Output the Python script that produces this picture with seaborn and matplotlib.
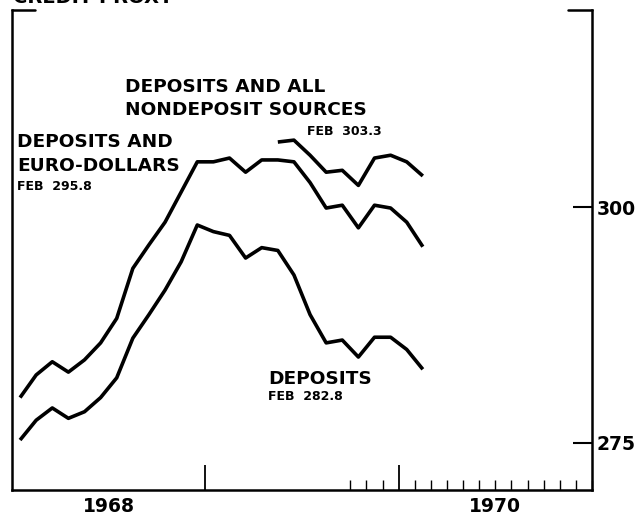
import pandas as pd
import matplotlib
matplotlib.use('Agg')
import matplotlib.pyplot as plt
import seaborn as sns

# Credit proxy, monthly averages (billions of dollars), Jan 1968 - Feb 1970
months = pd.date_range('1968-01-01', '1970-02-01', freq='MS')
deposits = [275.3, 277.4, 278.7, 277.6, 278.3, 279.8, 281.9, 286.1, 288.6, 291.2, 294.2, 298.1,
            297.4, 297.0, 294.6, 295.7, 295.4, 292.8, 288.6, 285.6, 285.9, 284.1, 286.2, 286.2,
            284.9, 282.8]
deposits_euro = [279.8, 282.2, 283.6, 282.5, 283.8, 285.6, 288.2, 293.5, 296.0, 298.4, 301.6, 304.8,
                 304.8, 305.2, 303.7, 305.0, 305.0, 304.8, 302.6, 299.9, 300.2, 297.8, 300.2, 299.9,
                 298.4, 295.8]

# nondeposit sources series only starts in May 1969
all_months = pd.date_range('1969-05-01', '1970-02-01', freq='MS')
all_sources = [306.9, 307.1, 305.5, 303.7, 303.9, 302.3, 305.2, 305.5, 304.8, 303.3]

y_ticks = [275, 300]
year_labels = ['1968', '1970']
year_label_pos = [1968.5, 1970.5]


def mid_month(idx):
    return idx.year + (idx.month - 0.5) / 12


df = pd.concat([
    pd.DataFrame({'year': mid_month(months), 'value': deposits, 'series': 'deposits'}),
    pd.DataFrame({'year': mid_month(months), 'value': deposits_euro, 'series': 'euro'}),
    pd.DataFrame({'year': mid_month(all_months), 'value': all_sources, 'series': 'all'}),
])

sns.set_theme(style='white')
plt.rcParams['font.family'] = ['DejaVu Sans']
plt.rcParams['text.color'] = 'black'
plt.rcParams['xtick.color'] = 'black'
plt.rcParams['ytick.color'] = 'black'

fig = plt.figure(figsize=(6.37, 5.15), dpi=100)
ax = fig.add_axes([12 / 637, 25 / 515, 580 / 637, 480 / 515])

sns.lineplot(data=df, x='year', y='value', hue='series', units='series', estimator=None,
             palette=['black'] * 3, legend=False, lw=2.6, ax=ax,
             solid_joinstyle='round', solid_capstyle='butt')

ax.set_xlim(1968, 1971)
ax.set_ylim(270, 320.9)
ax.set_xlabel('')
ax.set_ylabel('')

for side in ['left', 'right', 'bottom']:
    ax.spines[side].set_visible(True)
    ax.spines[side].set_color('black')
    ax.spines[side].set_linewidth(1.8)
ax.spines['top'].set_visible(False)
# short corner pieces of the top frame
ax.plot([0, 0.04], [1, 1], color='black', lw=1.8, transform=ax.transAxes, clip_on=False)
ax.plot([0.959, 1], [1, 1], color='black', lw=1.8, transform=ax.transAxes, clip_on=False)

# right-hand scale
ax.yaxis.tick_right()
ax.set_yticks(y_ticks)
ax.set_yticklabels([str(t) for t in y_ticks])
ax.tick_params(axis='y', direction='in', length=14, width=1.5, pad=3.5, labelsize=13.5,
               right=True, left=False, colors='black')
for lab in ax.get_yticklabels():
    lab.set_fontweight('bold')

# year boundaries and monthly ticks
ax.set_xticks([1969, 1970])
ax.set_xticklabels([])
minor = pd.date_range('1969-10-01', '1971-01-01', freq='MS')
minor = [m.year + (m.month - 1) / 12 for m in minor if not (m.year == 1970 and m.month == 1)]
ax.set_xticks(minor, minor=True)
ax.tick_params(axis='x', which='major', direction='in', length=18, width=1.3, bottom=True, colors='black')
ax.tick_params(axis='x', which='minor', direction='in', length=7, width=1.0, bottom=True, colors='black')
for lab, pos in zip(year_labels, year_label_pos):
    ax.annotate(lab, xy=(pos, 0), xycoords=('data', 'axes fraction'), xytext=(0, -5),
                textcoords='offset points', ha='center', va='top', fontsize=13.5,
                fontweight='bold', color='black')

# title (cut off at top in the original)
fig.text(13 / 637, 1 - 3 / 515, 'CREDIT PROXY', fontsize=14, fontweight='bold',
         va='baseline', color='black')

big = dict(fontsize=13.3, fontweight='bold', va='baseline', color='black', transform=ax.transAxes)
small = dict(fontsize=9, fontweight='bold', va='baseline', color='black', transform=ax.transAxes)
ax.text(0.195, 0.829, 'DEPOSITS AND ALL', **big)
ax.text(0.195, 0.781, 'NONDEPOSIT SOURCES', **big)
ax.text(0.509, 0.740, 'FEB  303.3', **small)
ax.text(0.009, 0.715, 'DEPOSITS AND', **big)
ax.text(0.009, 0.665, 'EURO-DOLLARS', **big)
ax.text(0.009, 0.625, 'FEB  295.8', **small)
ax.text(0.441, 0.221, 'DEPOSITS', **big)
ax.text(0.441, 0.1875, 'FEB  282.8', **small)

plt.savefig('out.png', dpi=100)
